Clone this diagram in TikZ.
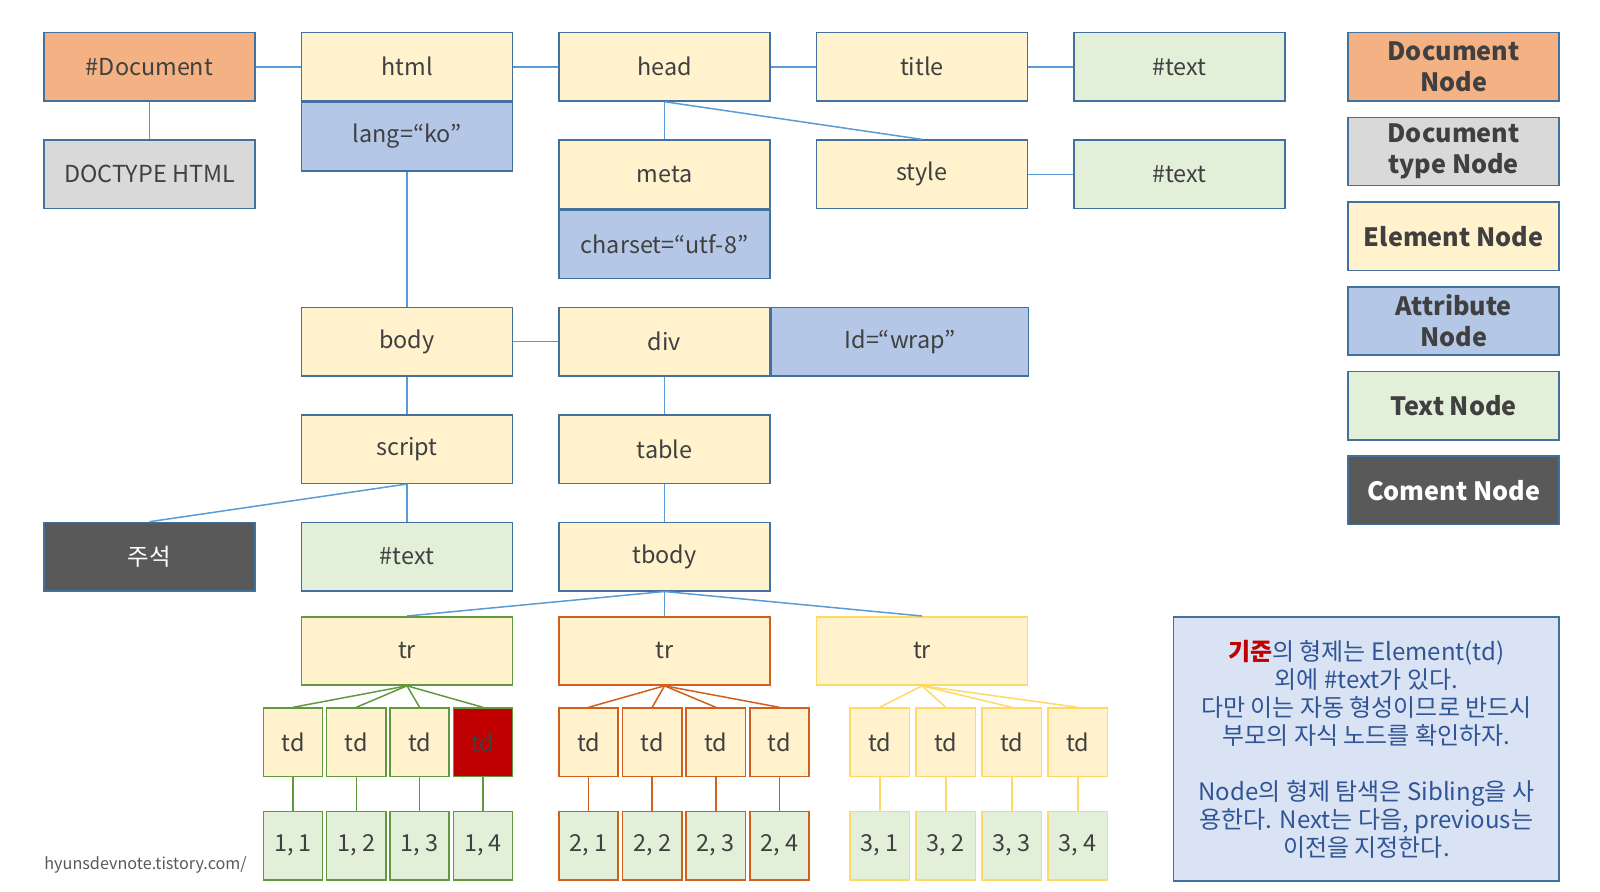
\documentclass[tikz,border=0pt]{standalone}
\usepackage{fontspec}
\setmainfont{Noto Sans CJK KR}
\usepackage{xcolor}
\usetikzlibrary{positioning}
\definecolor{edgeblue}{HTML}{41719C}
\definecolor{linkblue}{HTML}{5B9BD5}
\definecolor{docfill}{HTML}{F4B183}
\definecolor{typefill}{HTML}{D9D9D9}
\definecolor{elemfill}{HTML}{FFF2CC}
\definecolor{attrfill}{HTML}{B4C7E7}
\definecolor{textfill}{HTML}{E2F0D9}
\definecolor{cmtfill}{HTML}{595959}
\definecolor{notefill}{HTML}{DAE3F3}
\definecolor{notetext}{HTML}{2F5597}
\definecolor{keyred}{HTML}{C00000}
\definecolor{txtgray}{HTML}{404040}
\definecolor{wmgray}{HTML}{595959}
\definecolor{grn}{HTML}{62993F}
\definecolor{orng}{HTML}{D0601E}
\definecolor{yel}{HTML}{FFD966}

\begin{document}
\begin{tikzpicture}[
  node distance=18.85pt and 22.5pt,
  every node/.style={text=txtgray},
  base/.style={draw=edgeblue, line width=0.75pt, minimum width=105.5pt,
               minimum height=34.15pt, inner sep=0pt, font=\fontsize{11.7}{14}\selectfont},
  docnode/.style={base, fill=docfill},
  typenode/.style={base, fill=typefill},
  elem/.style={base, fill=elemfill},
  attr/.style={base, fill=attrfill},
  textnode/.style={base, fill=textfill},
  cmtnode/.style={base, fill=cmtfill, text=white},
  legend/.style={draw=edgeblue, line width=0.75pt, minimum width=105.5pt, minimum height=34.15pt,
                 inner sep=0pt, align=center, font=\bfseries\fontsize{12.6}{15.5}\selectfont},
  cell/.style={draw, line width=0.75pt, minimum width=29.6pt, minimum height=34.15pt,
               inner sep=0pt, font=\fontsize{11.7}{14}\selectfont},
  link/.style={draw=linkblue, line width=0.75pt}]
\useasboundingbox (0,0) rectangle (800pt,-445.5pt);
% document and head part
\node[docnode] (doc) at (74.75pt,-33.4pt) {\#Document};
\node[elem, right=of doc] (html) {html};
\node[attr, below=0pt of html] (lang) {lang=“ko”};
\node[elem, right=of html] (head) {head};
\node[elem, right=of head] (title) {title};
\node[textnode, right=of title] (txt1) {\#text};
\node[typenode, below=of doc] (dtype) {DOCTYPE HTML};
\node[elem, below=of head] (meta) {meta};
\node[attr, below=0pt of meta] (charset) {charset=“utf-8”};
\node[elem, below=of title] (style) {style};
\node[textnode, below=of txt1] (txt2) {\#text};
% body part
\node[elem, below=67.6pt of lang] (body) {body};
\node[elem, right=of body] (div) {div};
\node[attr, right=0pt of div, minimum width=128.5pt] (wrap) {Id=“wrap”};
\node[elem, below=of body] (script) {script};
\node[elem, below=of div] (table) {table};
\node[textnode, below=of script] (txt3) {\#text};
\node[cmtnode, left=of txt3] (cmt) {주석};
\node[elem, below=of table] (tbody) {tbody};
% rows
\node[elem, draw=orng, below=12.25pt of tbody] (tr2) {tr};
\node[elem, draw=grn, left=of tr2] (tr1) {tr};
\node[elem, draw=yel, right=of tr2] (tr3) {tr};
% cells
\node[cell, draw=grn, fill=keyred, below left=10.75pt and 0pt of tr1.south east] (a4) {td};
\foreach \i/\j in {3/4,2/3,1/2}
  \node[cell, draw=grn, fill=elemfill, left=1.3pt of a\j] (a\i) {td};
\node[cell, draw=orng, fill=elemfill, below right=10.75pt and 0pt of tr2.south west] (b1) {td};
\foreach \i/\j in {1/2,2/3,3/4}
  \node[cell, draw=orng, fill=elemfill, right=1.45pt of b\i] (b\j) {td};
\node[cell, draw=yel, fill=elemfill, below right=10.75pt and 16.85pt of tr3.south west] (c1) {td};
\foreach \i/\j in {1/2,2/3,3/4}
  \node[cell, draw=yel, fill=elemfill, right=2.65pt of c\i] (c\j) {td};
\foreach \i in {1,...,4} {
  \node[cell, draw=grn, fill=textfill, below=16.85pt of a\i] (va\i) {1, \i};
  \node[cell, draw=orng, fill=textfill, below=16.85pt of b\i] (vb\i) {2, \i};
  \node[cell, draw=yel, fill=textfill, below=16.85pt of c\i] (vc\i) {3, \i};
  \draw[grn, line width=0.75pt] (tr1.south) -- (a\i.north);
  \draw[grn, line width=0.75pt] (a\i) -- (va\i);
  \draw[orng, line width=0.75pt] (tr2.south) -- (b\i.north);
  \draw[orng, line width=0.75pt] (b\i) -- (vb\i);
  \draw[yel, line width=0.75pt] (tr3.south) -- (c\i.north);
  \draw[yel, line width=0.75pt] (c\i) -- (vc\i);
}
% legend
\node[legend, fill=docfill] (lg1) at (726.8pt,-33.4pt) {Document\\Node};
\node[legend, fill=typefill, below=7.45pt of lg1] (lg2) {Document\\type Node};
\node[legend, fill=elemfill, below=7.45pt of lg2] (lg3) {Element Node};
\node[legend, fill=attrfill, below=7.45pt of lg3] (lg4) {Attribute\\Node};
\node[legend, fill=textfill, below=7.45pt of lg4] (lg5) {Text Node};
\node[legend, fill=cmtfill, text=white, below=7.45pt of lg5] (lg6) {Coment Node};
% note
\node[draw=edgeblue, fill=notefill, line width=0.9pt, minimum width=192.85pt, minimum height=131.65pt,
      align=center, text=notetext, font=\fontsize{12}{14}\selectfont] (note) at (683.2pt,-374.5pt)
  {{\color{keyred}\bfseries 기준}의 형제는 Element(td)\\
   외에 \#text가 있다.\\
   다만 이는 자동 형성이므로 반드시\\
   부모의 자식 노드를 확인하자.\\[14pt]
   Node의 형제 탐색은 Sibling을 사\\
   용한다. Next는 다음, previous는\\
   이전을 지정한다.};
\node[anchor=west, inner sep=0pt, text=wmgray, font=\fontsize{8.1}{10}\selectfont] (mark)
  at (22pt,-432.5pt) {hyunsdevnote.tistory.com/};
% links
\draw[link] (doc) -- (html);
\draw[link] (html) -- (head);
\draw[link] (head) -- (title);
\draw[link] (title) -- (txt1);
\draw[link] (doc) -- (dtype);
\draw[link] (head) -- (meta);
\draw[link] (head.south) -- (style.north);
\draw[link] (style) -- (txt2);
\draw[link] (lang) -- (body);
\draw[link] (body) -- (div);
\draw[link] (body) -- (script);
\draw[link] (div) -- (table);
\draw[link] (table) -- (tbody);
\draw[link] (script.south) -- (cmt.north);
\draw[link] (script) -- (txt3);
\draw[link] (tbody.south) -- (tr1.north);
\draw[link] (tbody) -- (tr2);
\draw[link] (tbody.south) -- (tr3.north);
\end{tikzpicture}
\end{document}
